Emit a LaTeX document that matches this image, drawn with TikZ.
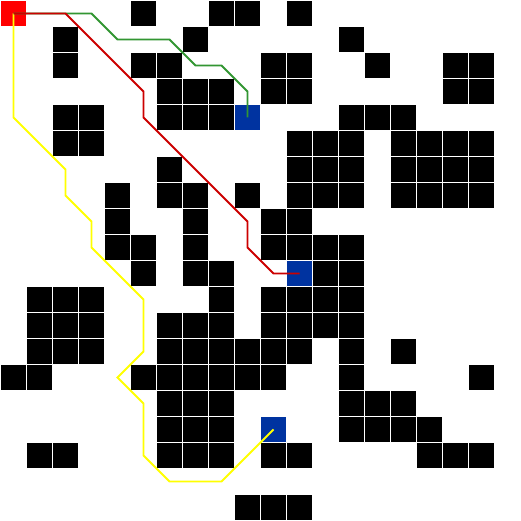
\documentclass[tikz,border=0pt]{standalone}
\definecolor{pathred}{RGB}{204,0,0}
\definecolor{pathgreen}{RGB}{50,150,50}
\definecolor{pathyellow}{RGB}{255,255,0}
\definecolor{goalblue}{RGB}{0,51,160}
\definecolor{startred}{RGB}{255,0,0}
\tikzset{
  cellbox/.style={inner sep=0pt, outer sep=0pt, minimum size=25pt, draw=none},
  wall/.style={cellbox, fill=black},
  goal/.style={cellbox, fill=goalblue},
  startcell/.style={cellbox, fill=startred},
  route/.style={line width=1.9pt, line join=miter},
}
\begin{document}
\begin{tikzpicture}[x=26pt,y=-26pt]
\useasboundingbox[fill=white] (0pt,0pt) rectangle (521pt,-521pt);
\begin{scope}[shift={(13.5pt,-13.5pt)}]
% walls
\foreach \r/\cols in {0/{5,8,9,11},1/{2,7,13},2/{2,5,6,10,11,14,17,18},3/{6,7,8,10,11,17,18},
  4/{2,3,6,7,8,13,14,15},5/{2,3,11,12,13,15,16,17,18},6/{6,11,12,13,15,16,17,18},
  7/{4,6,7,9,11,12,13,15,16,17,18},8/{4,7,10,11},9/{4,5,7,10,11,12,13},10/{5,7,8,12,13},
  11/{1,2,3,8,10,11,12,13},12/{1,2,3,6,7,8,10,11,12,13},13/{1,2,3,6,7,8,9,10,11,13,15},
  14/{0,1,5,6,7,8,9,10,13,18},15/{6,7,8,13,14,15},16/{6,7,8,13,14,15,16},
  17/{1,2,6,7,8,10,11,16,17,18},19/{9,10,11}}{
  \foreach \c in \cols {\node[wall] (w-\c-\r) at (\c,\r) {};}
}
\node[startcell] (start) at (0,0) {};
\node[goal] (goalA) at (9,4) {};
\node[goal] (goalB) at (11,10) {};
\node[goal] (goalC) at (10,16) {};
% routes
\draw[route, pathyellow] (start.center) -- (0,4) -- (2,6) -- (2,7) -- (3,8) -- (3,9) -- (5,11) -- (5,13) -- (4,14) -- (5,15) -- (5,17) -- (6,18) -- (8,18) -- (goalC.center);
\draw[route, pathgreen] (start.center) -- (3,0) -- (4,1) -- (6,1) -- (7,2) -- (8,2) -- (9,3) -- (goalA.center);
\draw[route, pathred] (start.center) -- (2,0) -- (5,3) -- (5,4) -- (9,8) -- (9,9) -- (10,10) -- (goalB.center);
\end{scope}
\end{tikzpicture}
\end{document}
